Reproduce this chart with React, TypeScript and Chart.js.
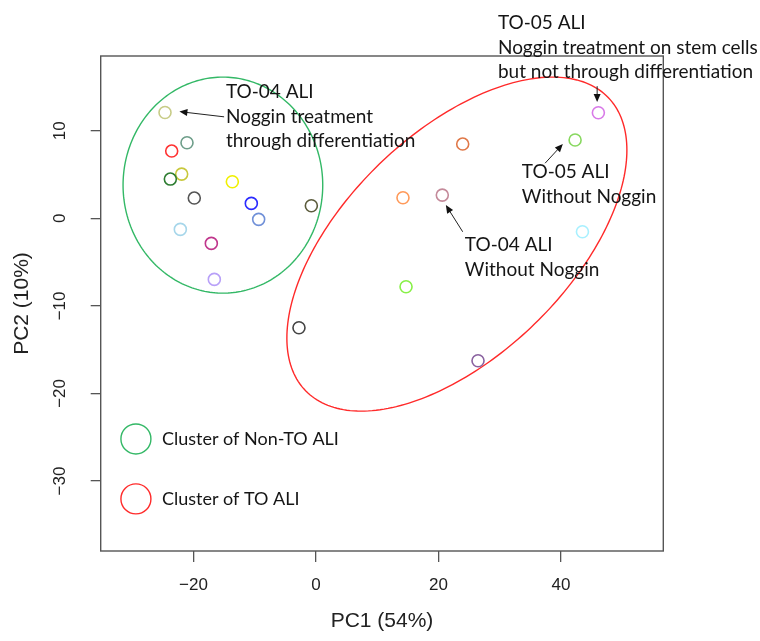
import React, { useEffect, useRef } from "react";
import { Chart, registerables } from "chart.js";

Chart.register(...registerables);

// ---- data ----
const pc1 = [-24.65, -21.06, -23.56, -21.93, -23.78, -13.66, -19.87, -10.56, -0.76, -9.36, -22.15, -17.09, -16.6,
  23.95, 14.2, 20.62, 42.3, 46.1, 43.5, 14.7, -2.78, 26.45];
const pc2 = [12.1, 8.64, 7.69, 5.06, 4.49, 4.18, 2.32, 1.71, 1.44, -0.11, -1.26, -2.86, -6.97,
  8.49, 2.36, 2.66, 8.95, 12.07, -1.53, -7.81, -12.5, -16.27];
const pointColors = ["#c8cc88", "#6e9e8a", "#ff3333", "#c8c83c", "#2e7d32", "#f0f000", "#555555", "#2b2bff", "#5c5c3c", "#7090d8", "#a6d6ea", "#c0368c", "#b8a0f8",
  "#e07848", "#ff9a5a", "#c48a9a", "#88d860", "#d87ae8", "#a8f0ff", "#88f048", "#444444", "#8a62a0"];

const xTicks = [-20, 0, 20, 40];
const yTicks = [-30, -20, -10, 0, 10];
const xRange = [-35.15, 56.7];
const yRange = [-38.0, 18.55];
const xTitle = "PC1 (54%)";
const yTitle = "PC2 (10%)";

// cluster ellipses: centre, semi-axis vectors (data units)
const clusterNames = ["Cluster of Non-TO ALI", "Cluster of TO ALI"];
const clusterColors = ["#33b866", "#ff2a2a"];
const clusterCenterX = [-15.2, 23.0];
const clusterCenterY = [3.8, -2.94];
const clusterAxisU = [[16.3, 0], [24.7, 16.75]];
const clusterAxisV = [[0, 12.34], [12.66, -9.14]];
const legendX = [-29.4, -29.4];
const legendY = [-25.2, -32.05];

// annotations
const annotLines = [
  ["TO-04 ALI", "Noggin treatment", "through differentiation"],
  ["TO-05 ALI", "Noggin treatment on stem cells", "but not through differentiation"],
  ["TO-05 ALI", "Without Noggin"],
  ["TO-04 ALI", "Without Noggin"],
];
const annotX = [-14.7, 29.7, 33.6, 24.3];
const annotY = [14.43, 22.3, 5.3, -3.05];
const arrowFrom = [[-15.0, 11.6], [45.9, 15.1], [37.4, 6.3], [23.95, -1.53]];
const arrowTo = [[-22.3, 12.2], [45.9, 13.3], [40.3, 8.5], [21.2, 1.52]];

const fmt = (v: number) => (v < 0 ? "\u2212" + Math.abs(v) : String(v));

const decorPlugin = {
  id: "decor",
  beforeDatasetsDraw(chart: any) {
    const { ctx, chartArea, scales } = chart;
    const xs = scales.x, ys = scales.y;
    ctx.save();
    // box
    ctx.strokeStyle = "#555555";
    ctx.lineWidth = 1.4;
    ctx.strokeRect(chartArea.left, chartArea.top, chartArea.right - chartArea.left, chartArea.bottom - chartArea.top);
    // ellipses
    ctx.lineWidth = 1.4;
    for (let k = 0; k < clusterNames.length; k++) {
      ctx.strokeStyle = clusterColors[k];
      ctx.beginPath();
      const n = 240;
      for (let i = 0; i <= n; i++) {
        const t = (i / n) * Math.PI * 2;
        const dx = clusterCenterX[k] + clusterAxisU[k][0] * Math.cos(t) + clusterAxisV[k][0] * Math.sin(t);
        const dy = clusterCenterY[k] + clusterAxisU[k][1] * Math.cos(t) + clusterAxisV[k][1] * Math.sin(t);
        const px = xs.getPixelForValue(dx), py = ys.getPixelForValue(dy);
        if (i === 0) ctx.moveTo(px, py); else ctx.lineTo(px, py);
      }
      ctx.closePath();
      ctx.stroke();
    }
    ctx.restore();
  },
  afterDatasetsDraw(chart: any) {
    const { ctx, scales } = chart;
    const xs = scales.x, ys = scales.y;
    ctx.save();
    // y tick labels (rotated as in R)
    ctx.fillStyle = "#222222";
    ctx.font = "17px 'Liberation Sans', Arial, sans-serif";
    ctx.textAlign = "center";
    ctx.textBaseline = "middle";
    for (const v of yTicks) {
      const py = ys.getPixelForValue(v);
      ctx.save();
      ctx.translate(60, py);
      ctx.rotate(-Math.PI / 2);
      ctx.fillText(fmt(v), 0, 0);
      ctx.restore();
    }
    // annotations
    ctx.fillStyle = "#151515";
    ctx.font = "19px Lato, 'Open Sans', sans-serif";
    ctx.textAlign = "left";
    ctx.textBaseline = "middle";
    for (let k = 0; k < annotLines.length; k++) {
      const px = xs.getPixelForValue(annotX[k]);
      const py = ys.getPixelForValue(annotY[k]);
      annotLines[k].forEach((line, i) => ctx.fillText(line, px, py + i * 24.5));
      const x1 = xs.getPixelForValue(arrowFrom[k][0]), y1 = ys.getPixelForValue(arrowFrom[k][1]);
      const x2 = xs.getPixelForValue(arrowTo[k][0]), y2 = ys.getPixelForValue(arrowTo[k][1]);
      const ang = Math.atan2(y2 - y1, x2 - x1);
      ctx.strokeStyle = "#222222";
      ctx.lineWidth = 1;
      ctx.beginPath();
      ctx.moveTo(x1, y1);
      ctx.lineTo(x2 - 6 * Math.cos(ang), y2 - 6 * Math.sin(ang));
      ctx.stroke();
      ctx.beginPath();
      ctx.moveTo(x2, y2);
      ctx.lineTo(x2 - 8 * Math.cos(ang) + 3.5 * Math.sin(ang), y2 - 8 * Math.sin(ang) - 3.5 * Math.cos(ang));
      ctx.lineTo(x2 - 8 * Math.cos(ang) - 3.5 * Math.sin(ang), y2 - 8 * Math.sin(ang) + 3.5 * Math.cos(ang));
      ctx.closePath();
      ctx.fillStyle = "#111111";
      ctx.fill();
      ctx.fillStyle = "#151515";
    }
    // legend
    ctx.font = "18px Lato, 'Open Sans', sans-serif";
    for (let k = 0; k < clusterNames.length; k++) {
      const px = xs.getPixelForValue(legendX[k]);
      const py = ys.getPixelForValue(legendY[k]);
      ctx.strokeStyle = clusterColors[k];
      ctx.lineWidth = 1.4;
      ctx.beginPath();
      ctx.arc(px, py, 15, 0, Math.PI * 2);
      ctx.stroke();
      ctx.fillStyle = "#151515";
      ctx.fillText(clusterNames[k], px + 26, py);
    }
    ctx.restore();
  },
};

export default function App() {
  const ref = useRef<HTMLCanvasElement | null>(null);
  useEffect(() => {
    if (!ref.current) return;
    const chart = new Chart(ref.current, {
      type: "scatter",
      data: {
        datasets: [
          {
            data: pc1.map((x, i) => ({ x, y: pc2[i] })),
            borderColor: pointColors,
            backgroundColor: "rgba(0,0,0,0)",
            pointRadius: 6,
            pointBorderWidth: 1.6,
            pointHoverRadius: 6,
          },
        ],
      },
      options: {
        animation: false,
        responsive: false,
        devicePixelRatio: 1,
        events: [],
        layout: { padding: { left: 0, top: 56, right: 96.7, bottom: 0 } },
        plugins: { legend: { display: false }, tooltip: { enabled: false } },
        scales: {
          x: {
            type: "linear",
            min: xRange[0],
            max: xRange[1],
            afterBuildTicks: (s: any) => { s.ticks = xTicks.map((v) => ({ value: v })); },
            afterFit: (s: any) => { s.height = 90; },
            border: { display: false },
            grid: { display: true, drawOnChartArea: false, drawTicks: true, tickLength: 11, color: "#555555", lineWidth: 1.3 },
            ticks: {
              padding: 12.8,
              color: "#222222",
              font: { family: "'Liberation Sans', Arial, sans-serif", size: 17 },
              callback: (v: any) => fmt(Number(v)),
              maxRotation: 0,
              minRotation: 0,
            },
            title: {
              display: true,
              text: xTitle,
              color: "#222222",
              font: { family: "'Liberation Sans', Arial, sans-serif", size: 21 },
              padding: { top: 0, bottom: 6.7 },
            },
          },
          y: {
            type: "linear",
            min: yRange[0],
            max: yRange[1],
            afterBuildTicks: (s: any) => { s.ticks = yTicks.map((v) => ({ value: v })); },
            afterFit: (s: any) => { s.width = 100.7; },
            border: { display: false },
            grid: { display: true, drawOnChartArea: false, drawTicks: true, tickLength: 10, color: "#555555", lineWidth: 1.3 },
            ticks: { display: false },
            title: {
              display: true,
              text: yTitle,
              color: "#222222",
              font: { family: "'Liberation Sans', Arial, sans-serif", size: 21 },
              padding: { top: 10.1, bottom: 0 },
            },
          },
        },
      },
      plugins: [decorPlugin],
    });
    return () => chart.destroy();
  }, []);
  return (
    <div style={{ position: "fixed", left: 0, top: 0, width: 760, height: 641, background: "#ffffff" }}>
      <canvas ref={ref} width={760} height={641} style={{ width: 760, height: 641, display: "block" }} />
    </div>
  );
}
